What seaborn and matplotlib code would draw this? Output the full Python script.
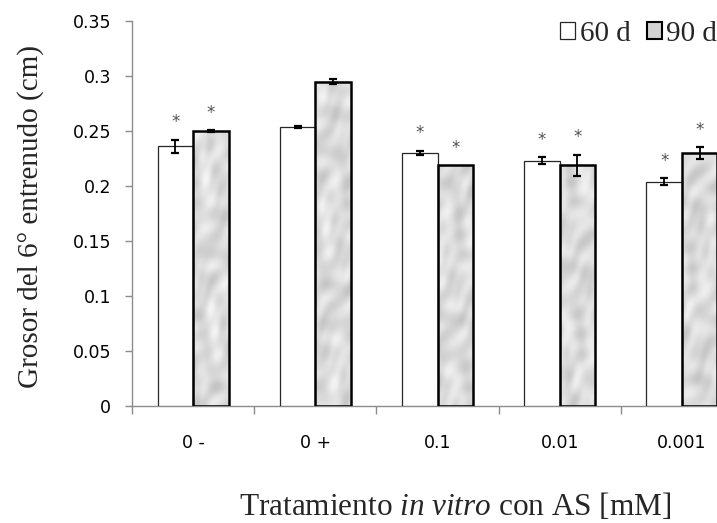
import numpy as np
import pandas as pd
import matplotlib
matplotlib.use("Agg")
import matplotlib.pyplot as plt
from matplotlib.patches import Patch
import seaborn as sns

# Data: internode thickness by treatment and plant age
treatments = ["0 -", "0 +", "0.1", "0.01", "0.001"]
ages = ["60 d", "90 d"]
mean_60d = [0.236, 0.254, 0.230, 0.223, 0.204]
mean_90d = [0.250, 0.295, 0.219, 0.219, 0.230]
err_60d = [0.006, 0.001, 0.002, 0.003, 0.003]
err_90d = [0.001, 0.0025, 0.0, 0.0095, 0.0055]
signif_60d = [True, False, True, True, True]
signif_90d = [True, False, True, True, True]
yticks = [0, 0.05, 0.1, 0.15, 0.2, 0.25, 0.3, 0.35]
ytick_labels = ["0", "0.05", "0.1", "0.15", "0.2", "0.25", "0.3", "0.35"]

df = pd.DataFrame({
    "tratamiento": treatments * 2,
    "edad": [ages[0]] * len(treatments) + [ages[1]] * len(treatments),
    "grosor": mean_60d + mean_90d,
})

sns.set_theme(style="white")
plt.rcParams["font.family"] = ["DejaVu Sans"]
plt.rcParams["mathtext.fontset"] = "custom"
plt.rcParams["mathtext.rm"] = "Liberation Serif"
plt.rcParams["mathtext.it"] = "Liberation Serif:italic"

W, H = 717, 523
fig = plt.figure(figsize=(W / 100, H / 100), dpi=100)
ax = fig.add_axes([132 / W, 117 / H, 611 / W, 385 / H])

fill_90 = "#d2d2d2"
sns.barplot(data=df, x="tratamiento", y="grosor", hue="edad",
            order=treatments, hue_order=ages,
            palette={ages[0]: "white", ages[1]: fill_90},
            width=0.58, gap=0, saturation=1, errorbar=None,
            legend=False, ax=ax)

ax.set_xlim(-0.5, 4.5)
ax.set_ylim(0, 0.35)

# Mottled grey texture for the 90 d bars
px_per_unit_y = 385 / 0.35


def marble(nx, ny, shift):
    yy, xx = np.mgrid[0:ny, 0:nx].astype(float)
    yy += shift * 53.0
    xx += shift * 11.0
    t = (0.45 * np.sin(0.21 * xx + 0.08 * yy + 2.2 * np.sin(0.047 * yy + 0.3 * shift))
         + 0.35 * np.sin(0.12 * yy - 0.19 * xx + 2.6 * np.cos(0.07 * xx + 0.031 * yy))
         + 0.25 * np.sin(0.33 * xx + 0.23 * yy + 1.7 * np.sin(0.13 * xx - 0.05 * yy))
         + 0.20 * np.sin(0.041 * yy + 0.9 * np.sin(0.17 * xx + 0.02 * yy))
         + 0.15 * np.cos(0.29 * yy - 0.07 * xx))
    t = np.clip(t, -1.2, 1.2)
    return 0.86 + 0.075 * t


bars60 = ax.containers[0]
bars90 = ax.containers[1]
for bar in bars60:
    bar.set_edgecolor("#262626")
    bar.set_linewidth(0.9)
    bar.set_zorder(3)
for i, bar in enumerate(bars90):
    x0 = bar.get_x()
    w = bar.get_width()
    h = bar.get_height()
    ny = max(int(h * px_per_unit_y), 2)
    tex = marble(36, ny, i)
    ax.imshow(tex, extent=[x0, x0 + w, 0, h], aspect="auto", cmap="gray",
              vmin=0, vmax=1, interpolation="bicubic", zorder=2, origin="upper")
    bar.set_facecolor("none")
    bar.set_edgecolor("black")
    bar.set_linewidth(1.8)
    bar.set_zorder(3)

ax.set_xlim(-0.5, 4.5)
ax.set_ylim(0, 0.35)

# Error bars and significance marks
for bars, means, errs, sig in [(bars60, mean_60d, err_60d, signif_60d),
                               (bars90, mean_90d, err_90d, signif_90d)]:
    for bar, m, e, s in zip(bars, means, errs, sig):
        xc = bar.get_x() + bar.get_width() / 2
        if e > 0:
            ax.errorbar(xc, m, yerr=e, fmt="none", ecolor="black",
                        elinewidth=1.3, capsize=3.2, capthick=1.6, zorder=4)
        if s:
            ax.annotate("*", xy=(xc, m + e), xytext=(0, 6),
                        textcoords="offset points", ha="center", va="bottom",
                        fontsize=12, color="#505050",
                        family="DejaVu Sans", zorder=5)

# Axes styling
for side in ["top", "right"]:
    ax.spines[side].set_visible(False)
for side in ["left", "bottom"]:
    ax.spines[side].set_color("#8c8c8c")
    ax.spines[side].set_linewidth(1.0)

ax.set_yticks(yticks)
ax.set_yticklabels(ytick_labels)
ax.set_xticks(range(len(treatments)))
ax.set_xticklabels(treatments)
ax.set_xticks(np.arange(-0.5, len(treatments) + 0.5, 1.0), minor=True)
ax.tick_params(axis="y", which="major", direction="out", length=5, width=1,
               color="#8c8c8c", pad=10, labelsize=12.5, labelcolor="black", left=True)
ax.tick_params(axis="x", which="major", length=0, pad=20, labelsize=12.5,
               labelcolor="black", bottom=True)
ax.tick_params(axis="x", which="minor", direction="out", length=6, width=1,
               color="#8c8c8c", bottom=True)
ax.set_xlabel("")
ax.set_ylabel("")
ax.grid(False)

serif = ["Liberation Serif", "DejaVu Serif"]
fig.text(31 / W, 1 - 216 / H, "Grosor del 6° entrenudo (cm)", rotation=90,
         ha="center", va="center", fontsize=21, family=serif)
fig.text(455 / W, 1 - 515 / H, r"Tratamiento $\mathit{in\ vitro}$ con AS [mM]",
         ha="center", va="baseline", fontsize=22.5, family=serif)

handles = [Patch(facecolor="white", edgecolor="#262626", linewidth=0.9),
           Patch(facecolor=fill_90, edgecolor="black", linewidth=1.5)]
fig.legend(handles, ages, loc="upper right", bbox_to_anchor=(1.0, 1 - 21 / H),
           ncol=2, frameon=False, prop={"family": serif, "size": 21},
           handlelength=0.52, handleheight=0.52, handletextpad=0.15,
           columnspacing=0.55, borderpad=0, borderaxespad=0)

fig.savefig("out.png", dpi=100)
